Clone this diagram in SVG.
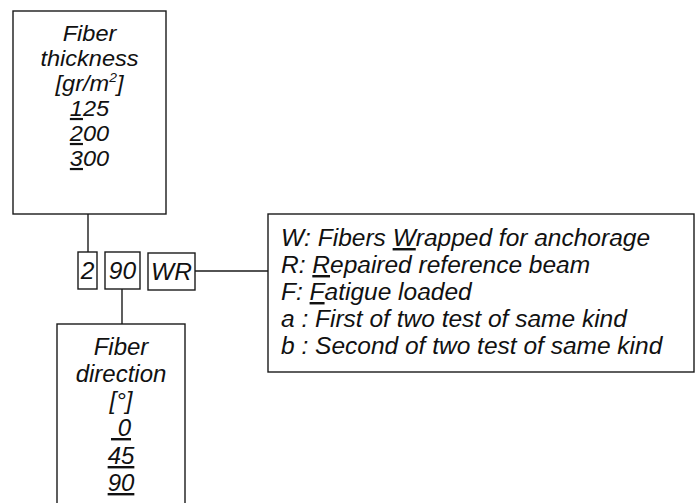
<svg xmlns="http://www.w3.org/2000/svg" width="695" height="503" viewBox="0 0 695 503">
<style>
.box{fill:#fff;stroke:#1a1a1a;stroke-width:1.4}
.ln{stroke:#1a1a1a;stroke-width:1.4;fill:none}
text{font-family:"Liberation Sans",Arial,sans-serif;font-style:italic;fill:#111}
.c{text-anchor:middle;font-size:22px}
.d{text-anchor:middle;font-size:24px}
.s{text-anchor:middle;font-size:24.5px}
.r{font-size:24.5px}
.u{text-decoration:underline}
</style>
<rect width="695" height="503" fill="#fff"/>
<g id="connectors">
<line class="ln" x1="88" y1="214" x2="88" y2="252"/>
<line class="ln" x1="122" y1="289" x2="122" y2="324"/>
<line class="ln" x1="195" y1="271" x2="268" y2="271"/>
</g>
<g id="thickness">
<rect class="box" x="13" y="11" width="153" height="203"/>
<g transform="translate(89.5,0) scale(1.07,1)">
<text class="c" x="0" y="41">Fiber</text>
<text class="c" x="0" y="66">thickness</text>
<text class="c" x="0" y="91">[gr/m<tspan font-size="13" dy="-9">2</tspan><tspan dy="9">]</tspan></text>
<text class="c" x="0" y="116"><tspan class="u">1</tspan>25</text>
<text class="c" x="0" y="141"><tspan class="u">2</tspan>00</text>
<text class="c" x="0" y="166"><tspan class="u">3</tspan>00</text>
</g>
</g>
<g id="code2">
<rect class="box" x="78" y="252" width="19" height="37"/>
<text class="s" x="87.5" y="279">2</text>
</g>
<g id="code90">
<rect class="box" x="105" y="252" width="35" height="37"/>
<text class="s" x="122.5" y="279">90</text>
</g>
<g id="codeWR">
<rect class="box" x="148" y="253" width="47" height="37"/>
<text class="s" x="171.5" y="280" font-size="25.5">WR</text>
</g>
<g id="legend">
<rect class="box" x="268" y="214" width="426" height="158"/>
<text class="r" x="281" y="246">W: Fibers <tspan class="u">W</tspan>rapped for anchorage</text>
<text class="r" x="281" y="273">R: <tspan class="u">R</tspan>epaired reference beam</text>
<text class="r" x="281" y="300">F: <tspan class="u">F</tspan>atigue loaded</text>
<text class="r" x="281" y="327">a : First of two test of same kind</text>
<text class="r" x="281" y="354">b : Second of two test of same kind</text>
</g>
<g id="direction">
<rect class="box" x="57" y="324" width="128" height="200"/>
<text class="d" x="121" y="355">Fiber</text>
<text class="d" x="121" y="382">direction</text>
<text class="d" x="121" y="409">[°]</text>
<text class="d" x="121" y="436"><tspan class="u">&#160;0</tspan></text>
<text class="d" x="121" y="464"><tspan class="u">45</tspan></text>
<text class="d" x="121" y="491"><tspan class="u">90</tspan></text>
</g>
</svg>
